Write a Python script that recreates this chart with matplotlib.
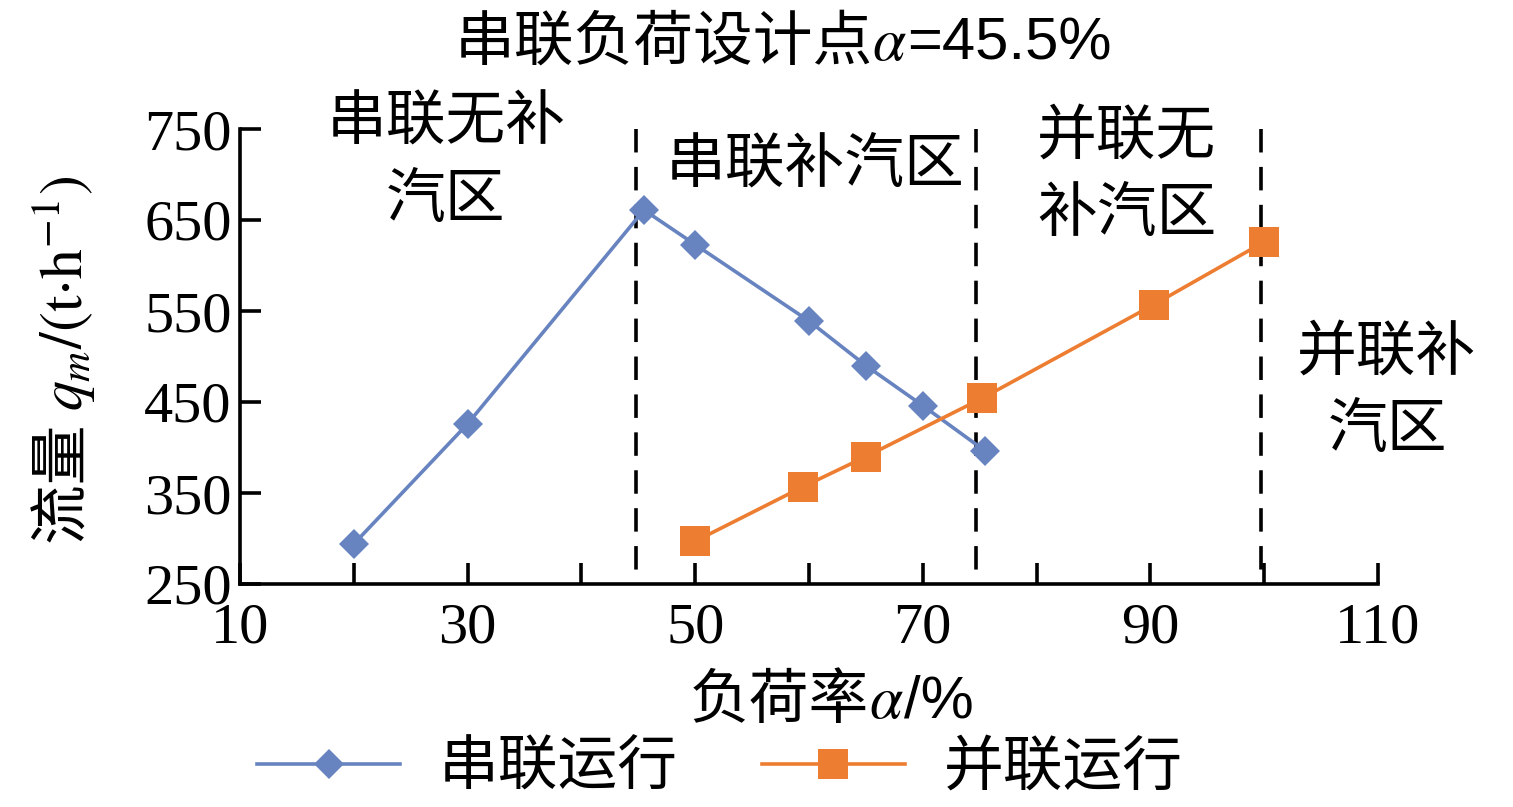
import matplotlib
matplotlib.use("Agg")
import matplotlib.pyplot as plt
from matplotlib import font_manager as fm
from matplotlib.lines import Line2D

# ---- data ----
series_x = [20, 30, 45.5, 50, 60, 65, 70, 75.5]
series_y = [294, 426, 661, 623, 539, 490, 446, 396]
parallel_x = [50, 59.5, 65, 75.2, 90.3, 100]
parallel_y = [297, 357, 390, 454, 557, 626]
boundaries = [44.8, 74.7, 99.7]
boundary_span = [750, 250]
series_label = "串联运行"
parallel_label = "并联运行"
xticks_major = [10, 20, 30, 40, 50, 60, 70, 80, 90, 100, 110]
xtick_labels = ["10", "", "30", "", "50", "", "70", "", "90", "", "110"]
yticks = [250, 350, 450, 550, 650, 750]
region_lines = ["串联无补", "汽区", "串联补汽区", "并联无", "补汽区", "并联补", "汽区"]
title_parts = ["串联负荷设计点", "$\\alpha$", "=45.5%"]
xlabel_parts = ["负荷率", "$\\alpha$", "/%"]
ylabel_parts = ["流量 ", "$q_m/(\\mathrm{t{\\cdot}h}^{-1})$"]

# pixel positions (layout) of region text lines
region_pos = [(446, 123), (446, 200), (815, 165), (1127, 137), (1127, 215),
              (1387, 353), (1387, 430)]

W, H = 1513, 807
names = {f.name for f in fm.fontManager.ttflist}
serif = "Liberation Serif" if "Liberation Serif" in names else "DejaVu Serif"
narrow = "Liberation Sans Narrow" if "Liberation Sans Narrow" in names else "Liberation Sans"
cjk = "Noto Sans CJK SC"

plt.rcParams["font.family"] = [serif, cjk, "DejaVu Sans"]
plt.rcParams["mathtext.fontset"] = "stix"

blue = "#6784C0"
orange = "#ED7D31"
FS = 43

fig = plt.figure(figsize=(W / 100, H / 100), dpi=100)
ax = fig.add_axes([240 / W, 1 - 584 / H, (1378 - 240) / W, (584 - 129) / H])

ax.plot(series_x, series_y, color=blue, lw=2.6, marker="D", ms=15,
        markeredgewidth=0, zorder=3)
ax.plot(parallel_x, parallel_y, color=orange, lw=2.6, marker="s", ms=21,
        markeredgewidth=0, zorder=3)
for b in boundaries:
    ax.plot([b, b], boundary_span, color="black", linestyle=(0, (6.5, 4)),
            lw=2.6, zorder=2)

ax.set_xlim(10, 110)
ax.set_ylim(250, 750)
ax.set_xticks(xticks_major)
ax.set_xticklabels(xtick_labels)
ax.set_yticks(yticks)
ax.set_yticklabels([str(v) for v in yticks])
for s in ["top", "right"]:
    ax.spines[s].set_visible(False)
for s in ["left", "bottom"]:
    ax.spines[s].set_linewidth(2.6)
ax.tick_params(direction="in", length=15, width=2.6, labelsize=42, pad=13)
ax.tick_params(axis="y", pad=6)
for lab in ax.get_xticklabels() + ax.get_yticklabels():
    lab.set_family(serif)

for txt, (px, py) in zip(region_lines, region_pos):
    fig.text(px / W, 1 - py / H, txt, ha="center", va="center", fontsize=FS,
             family=[cjk])

renderer = fig.canvas.get_renderer()


def family_for(part):
    if "$" in part:
        return [serif]
    if any(ord(c) > 0x2E80 for c in part):
        return [cjk]
    return [narrow]


def hcomposite(parts, cx, base_y, fams=None):
    texts = []
    for i, p in enumerate(parts):
        fam = fams[i] if fams else family_for(p)
        t = fig.text(0, 1 - base_y / H, p, fontsize=FS, family=fam,
                     ha="left", va="baseline")
        texts.append(t)
    widths = [t.get_window_extent(renderer).width for t in texts]
    x = cx - sum(widths) / 2
    for t, w in zip(texts, widths):
        t.set_x(x / W)
        x += w


def vcomposite(parts, base_x, cy, fams=None):
    texts = []
    for i, p in enumerate(parts):
        fam = fams[i] if fams else family_for(p)
        t = fig.text(base_x / W, 0, p, fontsize=FS, family=fam, rotation=90,
                     rotation_mode="anchor", ha="left", va="baseline")
        texts.append(t)
    heights = [t.get_window_extent(renderer).height for t in texts]
    y_bottom = cy + sum(heights) / 2
    for t, h in zip(texts, heights):
        t.set_y(1 - y_bottom / H)
        y_bottom -= h


hcomposite(title_parts, 783, 60)
hcomposite(xlabel_parts, 832, 718)
vcomposite(ylabel_parts, 82, 360, fams=[[cjk], [serif]])

handles = [
    Line2D([], [], color=blue, lw=2.6, marker="D", ms=15, markeredgewidth=0),
    Line2D([], [], color=orange, lw=2.6, marker="s", ms=21, markeredgewidth=0),
]
fig.legend(handles, [series_label, parallel_label], ncol=2,
           loc="center", bbox_to_anchor=(720 / W, 1 - 768 / H),
           frameon=False, prop={"family": cjk, "size": FS},
           handlelength=2.4, handletextpad=0.65, columnspacing=1.4)

fig.savefig("out.png", dpi=100)
